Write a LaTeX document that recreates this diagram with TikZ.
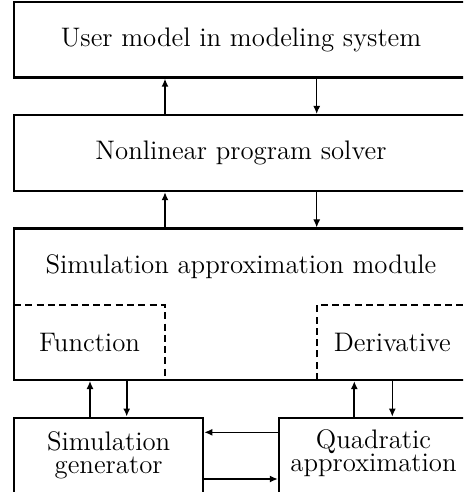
\documentclass[tikz,border=0pt]{standalone}
\usepackage{fontspec}
\setmainfont{lmroman12-regular.otf}
\usetikzlibrary{arrows.meta}
\begin{document}
\begin{tikzpicture}[x=1pt,y=-1pt,
  box/.style={draw,line width=2.2pt,rectangle,inner sep=0pt,outer sep=0pt},
  region/.style={rectangle,inner sep=0pt,outer sep=0pt},
  lbl/.style={inner sep=0pt,outer sep=0pt,align=center,font=\fontsize{26.8}{23.3}\selectfont},
  thinarr/.style={line width=1.1pt,-{Latex[length=8pt,width=7pt]},shorten >=1.1pt},
  thickarr/.style={line width=2pt,-{Latex[length=8pt,width=7pt]},shorten >=1.1pt},
  dashline/.style={line width=2pt,dash pattern=on 7pt off 4.3pt}
]
\useasboundingbox (0,0) rectangle (463,492);
\clip (0,0) rectangle (463,492);

% main stack of modules
\node[box,lbl,minimum width=454pt,minimum height=75.5pt] (user) at (241,39.75)
  {User model in modeling system};
\node[box,lbl,minimum width=454pt,minimum height=76pt] (nlp) at (241,153)
  {Nonlinear program solver};
\node[box,minimum width=454pt,minimum height=151.5pt] (sam) at (241,304.25) {};
\node[lbl,anchor=base] (samtitle) at (241,273.3) {Simulation approximation module};

% function and derivative parts of the approximation module
\node[region,lbl,minimum width=151pt,minimum height=75pt] (func) at (89.5,342.5) {Function};
\node[region,lbl,minimum width=151.3pt,minimum height=75pt] (deriv) at (392.35,342.5) {Derivative};
\draw[dashline] (func.north west) -- (func.north east) -- (func.south east);
\draw[dashline] (deriv.south west) -- (deriv.north west) -- (deriv.north east);

% lower modules
\node[box,minimum width=189.3pt,minimum height=90pt,anchor=north west] (simgen) at (14,417.7) {};
\node[lbl] (simgentext) at (108.65,455.1) {Simulation\\generator};
\node[box,minimum width=189pt,minimum height=90pt,anchor=north west] (quad) at (279,417.7) {};
\node[lbl] (quadtext) at (373.5,453.1) {Quadratic\\approximation};

% columns of the vertical connectors
\coordinate (xa) at (165,0);
\coordinate (xb) at (316.7,0);
\coordinate (xc) at (90,0);
\coordinate (xd) at (126.7,0);
\coordinate (xe) at (354.3,0);
\coordinate (xf) at (392.3,0);
% rows of the horizontal connectors
\coordinate (ya) at (0,432.3);
\coordinate (yb) at (0,479);

\draw[thickarr] (nlp.north -| xa) -- (user.south -| xa);
\draw[thinarr] (user.south -| xb) -- (nlp.north -| xb);
\draw[thickarr] (sam.north -| xa) -- (nlp.south -| xa);
\draw[thinarr] (nlp.south -| xb) -- (sam.north -| xb);

\draw[thinarr] (simgen.north -| xc) -- (sam.south -| xc);
\draw[thickarr] (sam.south -| xd) -- (simgen.north -| xd);
\draw[thickarr] (quad.north -| xe) -- (sam.south -| xe);
\draw[thinarr] (sam.south -| xf) -- (quad.north -| xf);

\draw[thinarr] (quad.west |- ya) -- (simgen.east |- ya);
\draw[thickarr] (simgen.east |- yb) -- (quad.west |- yb);
\end{tikzpicture}
\end{document}
